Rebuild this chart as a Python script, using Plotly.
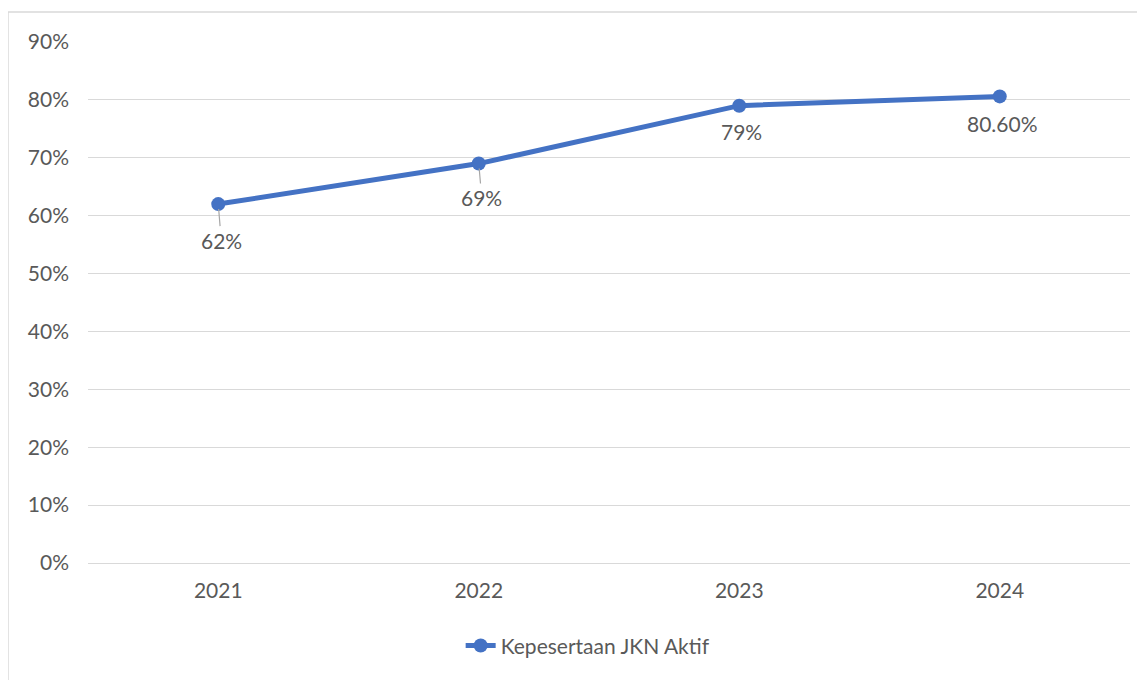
import plotly.graph_objects as go

years = ["2021", "2022", "2023", "2024"]
values = [0.62, 0.69, 0.79, 0.806]
labels = ["62%", "69%", "79%", "80.60%"]
series_name = "Kepesertaan JKN Aktif"

BLUE = "#4472C4"
TXT = "#595959"
GRID = "#D9D9D9"
FONT = "Lato"

fig = go.Figure()
fig.add_trace(go.Scatter(
    x=years, y=values, mode="lines+markers", name=series_name,
    line=dict(color=BLUE, width=5),
    marker=dict(color=BLUE, size=14),
))

offsets = [(3, 36), (3, 34), (2, 26), (3, 27)]
arrows = [True, True, False, False]
for i, (yv, lab, (ax, ay), arr) in enumerate(zip(values, labels, offsets, arrows)):
    fig.add_annotation(
        x=i, y=yv, xref="x", yref="y", text=lab, showarrow=True,
        arrowhead=0, arrowwidth=1.2,
        arrowcolor="#A6A6A6" if arr else "rgba(0,0,0,0)",
        ax=ax, ay=ay, standoff=5,
        font=dict(family=FONT, size=21, color=TXT),
    )

# chart border
fig.add_shape(type="rect", xref="paper", yref="paper",
              x0=-0.0768, x1=1.1, y0=-0.4, y1=1.0576,
              line=dict(color=GRID, width=1.5), fillcolor="rgba(0,0,0,0)", layer="below")

fig.update_layout(
    width=1137, height=672,
    margin=dict(l=80, r=15, t=34, b=117),
    paper_bgcolor="white", plot_bgcolor="white",
    font=dict(family=FONT, size=21, color=TXT),
    showlegend=True,
    legend=dict(orientation="h", x=0.48, xanchor="center", y=-0.159, yanchor="middle",
                font=dict(family=FONT, size=21, color=TXT), bgcolor="rgba(0,0,0,0)"),
    xaxis=dict(type="category", range=[-0.5, 3.5], showgrid=False, showline=False,
               zeroline=False, ticks="", ticklabelstandoff=13,
               tickfont=dict(family=FONT, size=21, color=TXT)),
    yaxis=dict(range=[0, 0.9], dtick=0.1, tick0=0, tickformat=".0%",
               showgrid=True, gridcolor=GRID, gridwidth=1.3, zeroline=True,
               zerolinecolor=GRID, zerolinewidth=1.3, showline=False, ticks="",
               ticklabelstandoff=18,
               tickfont=dict(family=FONT, size=21, color=TXT)),
)

fig.write_html("out.html")
